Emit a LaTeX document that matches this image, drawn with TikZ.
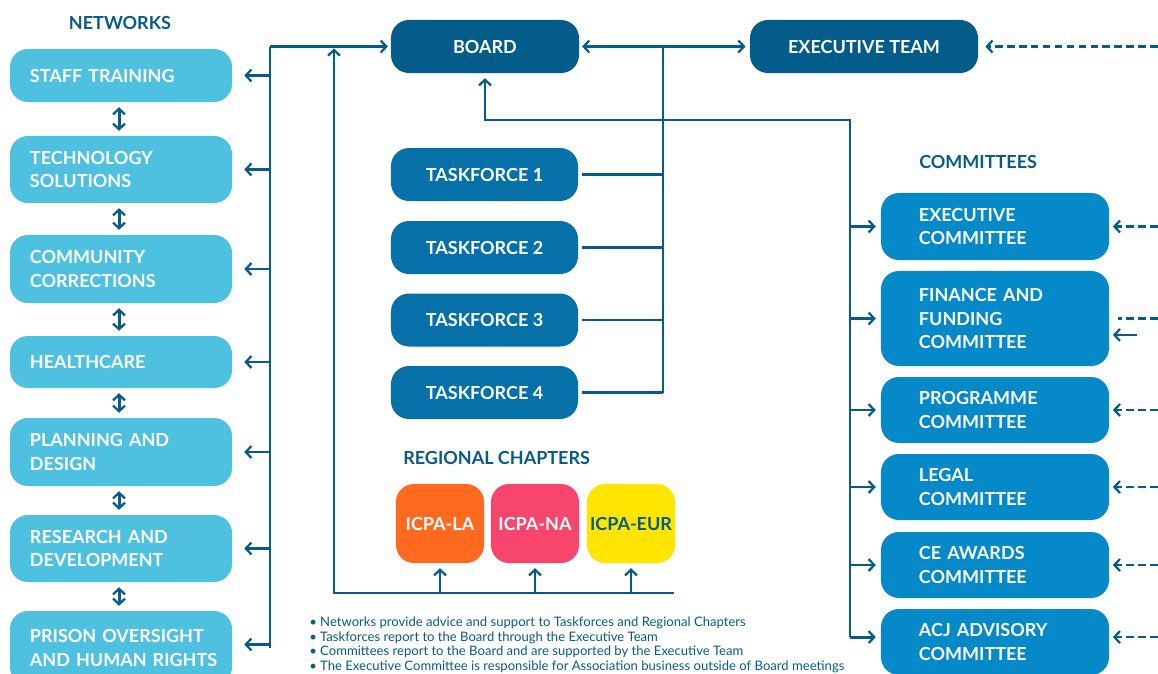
\documentclass[tikz,border=0pt]{standalone}
\usepackage{fontspec}
\setmainfont{Lato}
\usetikzlibrary{arrows.meta, positioning}
\definecolor{netblue}{HTML}{4FC1E0}
\definecolor{navy}{HTML}{035C8A}
\definecolor{tfblue}{HTML}{0571A8}
\definecolor{comblue}{HTML}{0589C9}
\definecolor{linecol}{HTML}{065B89}
\definecolor{icpaor}{HTML}{FF6A1E}
\definecolor{icpapk}{HTML}{F8456E}
\definecolor{icpaye}{HTML}{FFE500}

\begin{document}
\begin{tikzpicture}[x=0.025cm, y=-0.025cm,
   box/.style={rounded corners=0.45cm, text=white, inner sep=0pt,
     font=\bfseries\fontsize{12.8}{16.4}\selectfont},
   net/.style={box, fill=netblue, minimum width=5.55cm, text width=4.55cm, align=left},
   com/.style={box, fill=comblue, minimum width=5.7cm, text width=3.8cm, align=left},
   tf/.style={box, fill=tfblue, minimum width=4.675cm, minimum height=1.325cm},
   reg/.style={box, minimum width=2.2cm, minimum height=1.975cm},
   ttl/.style={text=linecol, inner sep=0pt, font=\bfseries\fontsize{12.8}{15}\selectfont},
   ln/.style={draw=linecol, line width=2.1pt},
   arr/.style={ln, -{Straight Barb[length=4pt, width=8.5pt, line width=1.6pt]}},
   darr/.style={ln, {Straight Barb[length=4pt, width=8.5pt, line width=1.6pt]}-{Straight Barb[length=4pt, width=8.5pt, line width=1.6pt]}},
   dsh/.style={arr, line width=1.5pt, dash pattern=on 5.5pt off 3pt}]
   \useasboundingbox (0,0) rectangle (1158,673);

   % networks
   \node[ttl] (nett) at (120,23) {NETWORKS};
   \node[net, minimum height=1.325cm] (st) at (121,75.5) {STAFF TRAINING};
   \node[net, minimum height=1.675cm] (ts) at (121,169.5) {TECHNOLOGY\\SOLUTIONS};
   \node[net, minimum height=1.7cm] (cc) at (121,269) {COMMUNITY\\CORRECTIONS};
   \node[net, minimum height=1.3cm] (hc) at (121,362) {HEALTHCARE};
   \node[net, minimum height=1.7cm] (pd) at (121,452) {PLANNING AND\\DESIGN};
   \node[net, minimum height=1.675cm] (rd) at (121,548.5) {RESEARCH AND\\DEVELOPMENT};
   \node[net, minimum height=1.85cm] (po) at (121,648) {\mbox{PRISON OVERSIGHT}\\\mbox{AND HUMAN RIGHTS}};
   \foreach \a/\b in {st/ts, ts/cc, cc/hc, hc/pd, pd/rd, rd/po}
      \draw[darr, shorten <=3.5pt, shorten >=3.5pt] ([xshift=-1.4pt]\a.south) -- ([xshift=-1.4pt]\b.north);

   % board, team, taskforces
   \node[box, fill=navy, minimum width=4.7cm, minimum height=1.325cm] (brd) at (485,46.5) {BOARD};
   \node[box, fill=navy, minimum width=5.7cm, minimum height=1.325cm] (ext) at (864,46.5) {EXECUTIVE TEAM};
   \node[tf] (tf1) at (484.5,174.5) {TASKFORCE 1};
   \node[tf] (tf2) at (484.5,247.5) {TASKFORCE 2};
   \node[tf] (tf3) at (484.5,320) {TASKFORCE 3};
   \node[tf] (tf4) at (484.5,392.5) {TASKFORCE 4};

   % regional chapters
   \node[ttl, anchor=west] (regt) at (403,458) {REGIONAL CHAPTERS};
   \node[reg, fill=icpaor] (la) at (440,523.5) {ICPA-LA};
   \node[reg, fill=icpapk] (na) at (535,523.5) {ICPA-NA};
   \node[reg, fill=icpaye, text=linecol] (eur) at (631,523.5) {ICPA-EUR};

   % committees
   \node[ttl, anchor=west] (comt) at (919,162) {COMMITTEES};
   \node[com, minimum height=1.675cm] (ec) at (995,226.5) {EXECUTIVE\\COMMITTEE};
   \node[com, minimum height=2.375cm] (ff) at (995,318.5) {FINANCE AND\\FUNDING\\COMMITTEE};
   \node[com, minimum height=1.65cm] (pc) at (995,410) {PROGRAMME\\COMMITTEE};
   \node[com, minimum height=1.65cm] (lc) at (995,487) {LEGAL\\COMMITTEE};
   \node[com, minimum height=1.65cm] (ca) at (995,565) {CE AWARDS\\COMMITTEE};
   \node[com, minimum height=1.65cm] (ac) at (995,642) {ACJ ADVISORY\\COMMITTEE};

   \node[text=linecol, inner sep=0pt, align=left, anchor=north west,
     font=\fontsize{9.3}{10.5}\selectfont] (nts) at (309,616.5)
     {• Networks provide advice and support to Taskforces and Regional Chapters\\
      • Taskforces report to the Board through the Executive Team\\
      • Committees report to the Board and are supported by the Executive Team\\
      • The Executive Committee is responsible for Association business outside of Board meetings};

   % left bus
   \coordinate (lbus) at (270,0);
   \draw[ln] (lbus |- brd.west) -- (lbus |- po.east);
   \draw[arr, shorten >=2pt] (lbus |- brd.west) -- (brd.west);
   \foreach \n in {st,ts,cc,hc,pd,rd}
      \draw[arr, shorten >=8.5pt] (lbus |- \n.east) -- (\n.east);
   \draw[arr, shorten >=8.5pt] ([yshift=2.5pt]lbus |- po.east) -- ([yshift=2.5pt]po.east);

   % regional bus
   \coordinate (rbus) at (334,593);
   \coordinate (rend) at (674,593);
   \draw[arr, shorten >=1.4pt] (rend) -- (rbus) -- (rbus |- brd.west);
   \foreach \n in {la,na,eur}
      \draw[arr, shorten >=3.5pt] (\n.south |- rbus) -- (\n.south);

   % taskforce bus
   \draw[darr, shorten <=2pt, shorten >=3pt] (brd.east) -- (ext.west);
   \coordinate (tbus) at (663,0);
   \draw[ln] (tbus |- brd.east) -- (tbus |- tf4.east);
   \foreach \n in {tf1,tf2,tf3,tf4}
      \draw[ln, shorten <=2.5pt] (\n.east) -- (tbus |- \n.east);

   % committee bus
   \coordinate (cbus) at (850,120);
   \draw[arr, shorten >=3.5pt] (cbus |- ac.west) ++(0,-5) -- (cbus) -| (brd.south);
   \foreach \n in {ec,ff,pc,lc,ca}
      \draw[arr, shorten >=3.5pt] (cbus |- \n.west) -- (\n.west);
   \draw[arr, shorten >=3.5pt] ([yshift=3.5pt]cbus |- ac.west) -- ([yshift=3.5pt]ac.west);

   % dashed links from the right
   \coordinate (redge) at (1158,0);
   \draw[dsh, shorten >=5pt] (redge |- ext.east) -- (ext.east);
   \foreach \n in {ec,pc,lc,ca}
      \draw[dsh, shorten >=2.5pt] (redge |- \n.east) -- (\n.east);
   \draw[dsh, shorten >=2.5pt] ([yshift=3.5pt]redge |- ac.east) -- ([yshift=3.5pt]ac.east);
   \draw[ln, line width=1.5pt, dash pattern=on 5.5pt off 3pt] (redge |- ff.east) -- ([xshift=6.5pt]ff.east);
   \draw[arr, line width=1.5pt, shorten >=2.5pt] ([xshift=20pt, yshift=-11.7pt]ff.east) -- ([yshift=-11.7pt]ff.east);
\end{tikzpicture}
\end{document}
